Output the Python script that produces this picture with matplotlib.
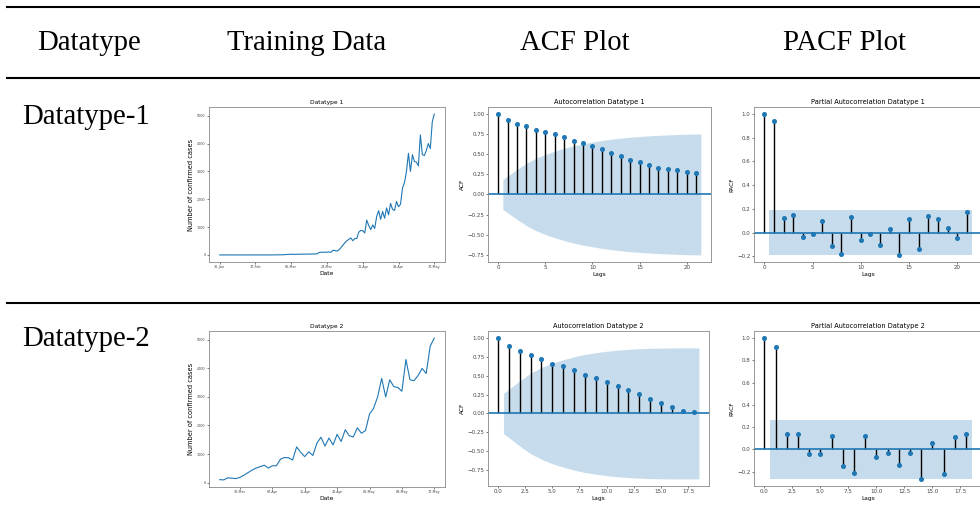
import numpy as np
import pandas as pd
import matplotlib
matplotlib.use("Agg")
import matplotlib.pyplot as plt
import matplotlib.dates as mdates
from matplotlib.lines import Line2D

# daily confirmed cases, 30 Jan - 24 Mar
early_cases = [1, 0, 0, 2, 0, 1, 0, 0, 1, 0, 0, 0, 1, 0, 0, 0, 2, 0, 0, 1,
               0, 0, 1, 0, 0, 2, 1, 3, 2, 4, 5,
               6, 9, 12, 18, 22, 26, 24, 22, 24, 26, 27, 28, 29, 30, 31, 32,
               34, 36, 40, 88, 95, 98, 100, 100]
# daily confirmed cases, 25 Mar - 17 May
late_cases = [105, 95, 170, 155, 140, 185, 260, 350, 440, 510, 560, 610, 510,
              590, 590, 820, 880, 870, 790, 1250, 1060, 910, 1080, 950, 1380,
              1590, 1280, 1560, 1320, 1690, 1440, 1850, 1640, 1600, 1920, 1730,
              1820, 2400, 2600, 3000, 3650, 3000, 3600, 3360, 3330, 3200, 4310,
              3600, 3570, 3750, 4000, 3820, 4780, 5060]

cases_1 = early_cases + late_cases
cases_2 = late_cases
dates_1 = pd.date_range("2020-01-30", "2020-05-17")
dates_2 = pd.date_range("2020-03-25", "2020-05-17")

acf_1 = [1.00, 0.929, 0.882, 0.853, 0.807, 0.773, 0.752, 0.710, 0.660, 0.634,
         0.597, 0.559, 0.517, 0.483, 0.429, 0.399, 0.361, 0.332, 0.311, 0.298,
         0.273, 0.265]
pacf_1 = [1.00, 0.943, 0.126, 0.146, -0.034, -0.009, 0.097, -0.111, -0.180,
          0.129, -0.063, -0.011, -0.106, 0.031, -0.189, 0.111, -0.140, 0.140,
          0.117, 0.040, -0.043, 0.177]
acf_2 = [1.00, 0.901, 0.833, 0.775, 0.725, 0.662, 0.635, 0.581, 0.505, 0.468,
         0.414, 0.360, 0.306, 0.261, 0.185, 0.135, 0.081, 0.036, 0.014]
pacf_2 = [1.00, 0.918, 0.140, 0.140, -0.046, -0.040, 0.119, -0.149, -0.210,
          0.119, -0.073, -0.036, -0.143, -0.036, -0.267, 0.052, -0.219, 0.109,
          0.137]

headers = ["Datatype", "Training Data", "ACF Plot", "PACF Plot"]
header_x = [89, 307, 575, 844]
row_labels = ["Datatype-1", "Datatype-2"]

W, H = 980, 524
SERIF = "Liberation Serif"


def px_axes(fig, left, top, right, bottom):
    return fig.add_axes([left / W, 1 - bottom / H, (right - left) / W, (bottom - top) / H])


def style(ax, tick_size):
    for s in ax.spines.values():
        s.set_color("#888888")
        s.set_linewidth(0.6)
    ax.tick_params(labelsize=tick_size, length=1.5, width=0.5, pad=1,
                   colors="#444444")


def plot_cases(ax, dates, values, title, first_tick, step):
    ax.plot(dates, values, color="C0", lw=0.8)
    ax.set_xticks(dates[first_tick::step])
    ax.xaxis.set_major_formatter(mdates.DateFormatter("%d-%b"))
    style(ax, 2.4)
    ax.set_title(title, fontsize=4.3, pad=2)
    ax.set_xlabel("Date", fontsize=4.3, labelpad=1)
    ax.set_ylabel("Number of confirmed cases", fontsize=4.8, labelpad=2)


def plot_corr(ax, values, nobs, title, ylabel, partial):
    vals = np.array(values)
    lags = np.arange(len(vals))
    # confidence band: white noise for PACF, Bartlett's formula for ACF
    if partial:
        band = np.full(len(lags) - 1, 1.96 / np.sqrt(nobs))
    else:
        var = np.r_[1, 1 + 2 * np.cumsum(vals[1:-1] ** 2)] / nobs
        band = 1.96 * np.sqrt(var)
    band_x = lags[1:].astype(float)
    band_x[0] -= 0.5
    band_x[-1] += 0.5
    ax.fill_between(band_x, -band, band, color="C0", alpha=0.25, lw=0)
    ax.vlines(lags, 0, vals, color="k", lw=1.0)
    ax.axhline(0, color="C0", lw=1.2)
    ax.plot(lags, vals, "o", color="C0", ms=2.6)
    style(ax, 4.0)
    ax.set_title(title, fontsize=4.8, pad=2)
    ax.set_xlabel("Lags", fontsize=4.2, labelpad=1)
    ax.set_ylabel(ylabel, fontsize=4.2, labelpad=2)


fig = plt.figure(figsize=(W / 100, H / 100), dpi=100)

# table rules
for y in (7, 78, 303):
    fig.add_artist(Line2D([7 / W, 1], [1 - y / H] * 2, color="black", lw=1.5))

for x, text in zip(header_x, headers):
    fig.text(x / W, 1 - 50 / H, text, ha="center", va="baseline",
             fontsize=20.7, family=SERIF)
fig.text(22 / W, 1 - 124 / H, row_labels[0], ha="left", va="baseline",
         fontsize=20.7, family=SERIF)
fig.text(22 / W, 1 - 346 / H, row_labels[1], ha="left", va="baseline",
         fontsize=20.7, family=SERIF)

# row 1
ax = px_axes(fig, 209, 107, 445, 262)
plot_cases(ax, dates_1, cases_1, "Datatype 1", 0, 18)
ax = px_axes(fig, 488, 107, 711, 262)
plot_corr(ax, acf_1, len(cases_1), "Autocorrelation Datatype 1", "ACF", False)
ax = px_axes(fig, 754, 107, 982, 262)
plot_corr(ax, pacf_1, len(cases_1), "Partial Autocorrelation Datatype 1", "PACF", True)

# row 2
ax = px_axes(fig, 209, 331, 445, 487)
plot_cases(ax, dates_2, cases_2, "Datatype 2", 5, 8)
ax = px_axes(fig, 488, 331, 709, 486)
plot_corr(ax, acf_2, len(cases_2), "Autocorrelation Datatype 2", "ACF", False)
ax = px_axes(fig, 754, 331, 982, 486)
plot_corr(ax, pacf_2, len(cases_2), "Partial Autocorrelation Datatype 2", "PACF", True)

fig.savefig("out.png", dpi=100)
